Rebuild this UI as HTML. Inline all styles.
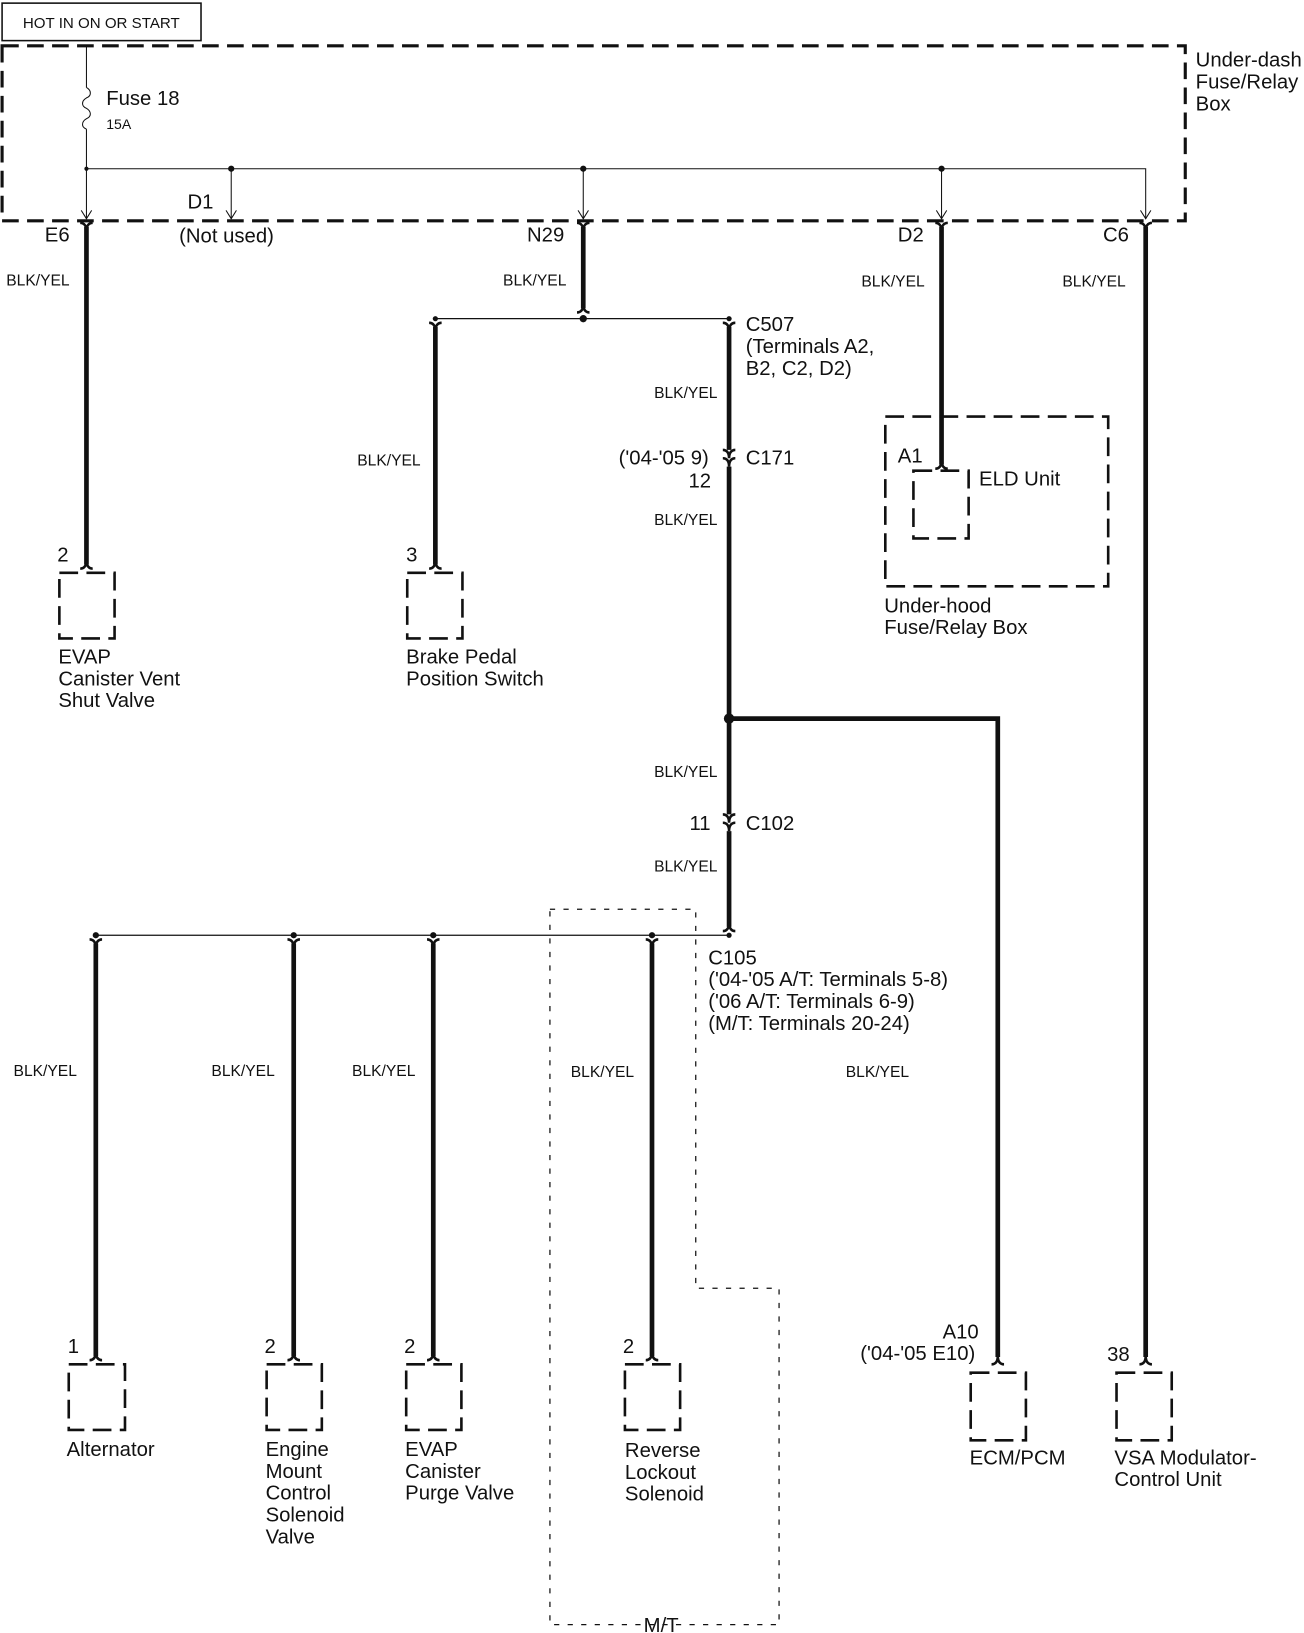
<!DOCTYPE html>
<html><head><meta charset="utf-8"><style>
html,body{margin:0;padding:0;background:#fff}
svg{display:block}
text{font-family:"Liberation Sans",sans-serif;fill:#111}
.t{font-size:19.5px}
.s{font-size:15px}
</style></head><body>
<svg width="1304" height="1633" viewBox="0 0 1252 1568" preserveAspectRatio="none" xmlns="http://www.w3.org/2000/svg">
<defs>
<g id="cd"><path d="M-6,-4 C-2,-4 0,-1 0,4 M6,-4 C2,-4 0,-1 0,4" fill="none" stroke="#111" stroke-width="2.5"/></g>
<g id="cu"><path d="M-6,4 C-2,4 0,1 0,-4 M6,4 C2,4 0,1 0,-4" fill="none" stroke="#111" stroke-width="2.5"/></g>
<g id="ar"><path d="M-5,-8 L0,0 L5,-8" fill="none" stroke="#111" stroke-width="1"/></g>
</defs>
<rect x="2" y="3" width="191" height="36" fill="none" stroke="#111" stroke-width="1.5"/>
<text x="22" y="27" style="font-size:14.5px">HOT IN ON OR START</text>
<path d="M2,44 H1138 V212 H2 Z" fill="none" stroke="#111" stroke-width="3" stroke-dasharray="16,8"/>
<text x="1148" y="64" class="t">Under-dash</text>
<text x="1148" y="85" class="t">Fuse/Relay</text>
<text x="1148" y="106" class="t">Box</text>
<g stroke="#111" stroke-width="1" fill="none">
<path d="M83,44 V84"/>
<path d="M83,84 c5,3 5,8 0,10 c-5,3 -5,8 0,10 c5,3 5,8 0,10 c-5,3 -5,8 0,10"/>
<path d="M83,124 V210 M83,162 H1100 V210 M222,162 V210 M560,162 V210 M904,162 V210"/>
</g>
<g fill="#111"><circle cx="222" cy="162" r="3"/><circle cx="560" cy="162" r="3"/><circle cx="904" cy="162" r="3"/><circle cx="83" cy="162" r="2"/></g>
<use href="#ar" x="83" y="210"/><use href="#ar" x="222" y="210"/><use href="#ar" x="560" y="210"/><use href="#ar" x="904" y="210"/><use href="#ar" x="1100" y="210"/>
<text x="102" y="101" class="t">Fuse 18</text>
<text x="102" y="124" style="font-size:13.5px">15A</text>
<text x="43" y="232" class="t">E6</text>
<text x="180" y="200" class="t">D1</text>
<text x="172" y="233" class="t">(Not used)</text>
<text x="506" y="232" class="t">N29</text>
<text x="862" y="232" class="t">D2</text>
<text x="1059" y="232" class="t">C6</text>
<g stroke="#111" stroke-width="4.5" fill="none">
<path d="M83,218 V542"/>
<path d="M560,218 V296"/>
<path d="M418,314 V542"/>
<path d="M700,314 V432 M700,448 V782 M700,798 V890"/>
<path d="M700,690 H958 V1303"/>
<path d="M904,218 V446"/>
<path d="M1100,218 V1303"/>
<path d="M92,906 V1302 M282,906 V1302 M416,906 V1302 M626,906 V1302"/>
</g>
<g stroke="#111" stroke-width="1.2" fill="none">
<path d="M418,306 H700"/>
<path d="M92,898 H700"/>
</g>
<g fill="#111"><circle cx="560" cy="306" r="3.5"/><circle cx="418" cy="306" r="2.5"/><circle cx="700" cy="306" r="2.5"/><circle cx="700" cy="690" r="5"/>
<circle cx="92" cy="898" r="3"/><circle cx="282" cy="898" r="3"/><circle cx="416" cy="898" r="3"/><circle cx="626" cy="898" r="3"/><circle cx="700" cy="898" r="2.5"/></g>
<use href="#cd" x="83" y="218"/><use href="#cd" x="560" y="218"/><use href="#cd" x="904" y="218"/><use href="#cd" x="1100" y="218"/>
<use href="#cu" x="560" y="296"/><use href="#cd" x="418" y="314"/><use href="#cd" x="700" y="314"/>
<use href="#cd" x="700" y="436"/><use href="#cd" x="700" y="444"/>
<use href="#cd" x="700" y="786"/><use href="#cd" x="700" y="794"/>
<use href="#cu" x="700" y="890"/>
<use href="#cd" x="92" y="906"/><use href="#cd" x="282" y="906"/><use href="#cd" x="416" y="906"/><use href="#cd" x="626" y="906"/>
<use href="#cu" x="83" y="542"/><use href="#cu" x="418" y="542"/><use href="#cu" x="904" y="446"/>
<use href="#cu" x="92" y="1302"/><use href="#cu" x="282" y="1302"/><use href="#cu" x="416" y="1302"/><use href="#cu" x="626" y="1302"/><use href="#cu" x="958" y="1306"/><use href="#cu" x="1100" y="1306"/>
<g fill="none" stroke="#111" stroke-width="2.5" stroke-dasharray="18,8">
<rect x="57" y="550" width="53" height="63"/>
<rect x="391" y="550" width="53" height="63"/>
<rect x="877" y="452" width="53" height="65"/>
<rect x="66" y="1310" width="54" height="63"/>
<rect x="256" y="1310" width="53" height="63"/>
<rect x="390" y="1310" width="53" height="63"/>
<rect x="600" y="1310" width="53" height="63"/>
<rect x="932" y="1318" width="53" height="65"/>
<rect x="1072" y="1318" width="53" height="65"/>
<rect x="850" y="400" width="214" height="163"/>
</g>
<path d="M528,873 H668 V1237 H748 V1560 H528 Z" fill="none" stroke="#111" stroke-width="1.2" stroke-dasharray="5,8"/>
<text x="618" y="1567" class="t">M/T</text>
<text x="6" y="274" class="s">BLK/YEL</text>
<text x="483" y="274" class="s">BLK/YEL</text>
<text x="827" y="275" class="s">BLK/YEL</text>
<text x="1020" y="275" class="s">BLK/YEL</text>
<text x="343" y="447" class="s">BLK/YEL</text>
<text x="628" y="382" class="s">BLK/YEL</text>
<text x="628" y="504" class="s">BLK/YEL</text>
<text x="628" y="746" class="s">BLK/YEL</text>
<text x="628" y="837" class="s">BLK/YEL</text>
<text x="13" y="1033" class="s">BLK/YEL</text>
<text x="203" y="1033" class="s">BLK/YEL</text>
<text x="338" y="1033" class="s">BLK/YEL</text>
<text x="548" y="1034" class="s">BLK/YEL</text>
<text x="812" y="1034" class="s">BLK/YEL</text>
<text x="716" y="318" class="t">C507</text>
<text x="716" y="339" class="t">(Terminals A2,</text>
<text x="716" y="360" class="t">B2, C2, D2)</text>
<text x="594" y="446" class="t">('04-'05 9)</text>
<text x="716" y="446" class="t">C171</text>
<text x="661" y="468" class="t">12</text>
<text x="862" y="444" class="t">A1</text>
<text x="940" y="466" class="t">ELD Unit</text>
<text x="849" y="588" class="t">Under-hood</text>
<text x="849" y="609" class="t">Fuse/Relay Box</text>
<text x="55" y="539" class="t">2</text>
<text x="390" y="539" class="t">3</text>
<text x="56" y="637" class="t">EVAP</text>
<text x="56" y="658" class="t">Canister Vent</text>
<text x="56" y="679" class="t">Shut Valve</text>
<text x="390" y="637" class="t">Brake Pedal</text>
<text x="390" y="658" class="t">Position Switch</text>
<text x="662" y="797" class="t">11</text>
<text x="716" y="797" class="t">C102</text>
<text x="680" y="926" class="t">C105</text>
<text x="680" y="947" class="t">('04-'05 A/T: Terminals 5-8)</text>
<text x="680" y="968" class="t">('06 A/T: Terminals 6-9)</text>
<text x="680" y="989" class="t">(M/T: Terminals 20-24)</text>
<text x="65" y="1299" class="t">1</text>
<text x="254" y="1299" class="t">2</text>
<text x="388" y="1299" class="t">2</text>
<text x="598" y="1299" class="t">2</text>
<text x="905" y="1285" class="t">A10</text>
<text x="826" y="1306" class="t">('04-'05 E10)</text>
<text x="1063" y="1307" class="t">38</text>
<text x="64" y="1398" class="t">Alternator</text>
<text x="255" y="1398" class="t">Engine</text>
<text x="255" y="1419" class="t">Mount</text>
<text x="255" y="1440" class="t">Control</text>
<text x="255" y="1461" class="t">Solenoid</text>
<text x="255" y="1482" class="t">Valve</text>
<text x="389" y="1398" class="t">EVAP</text>
<text x="389" y="1419" class="t">Canister</text>
<text x="389" y="1440" class="t">Purge Valve</text>
<text x="600" y="1399" class="t">Reverse</text>
<text x="600" y="1420" class="t">Lockout</text>
<text x="600" y="1441" class="t">Solenoid</text>
<text x="931" y="1406" class="t">ECM/PCM</text>
<text x="1070" y="1406" class="t">VSA Modulator-</text>
<text x="1070" y="1427" class="t">Control Unit</text>
</svg>
</body></html>
